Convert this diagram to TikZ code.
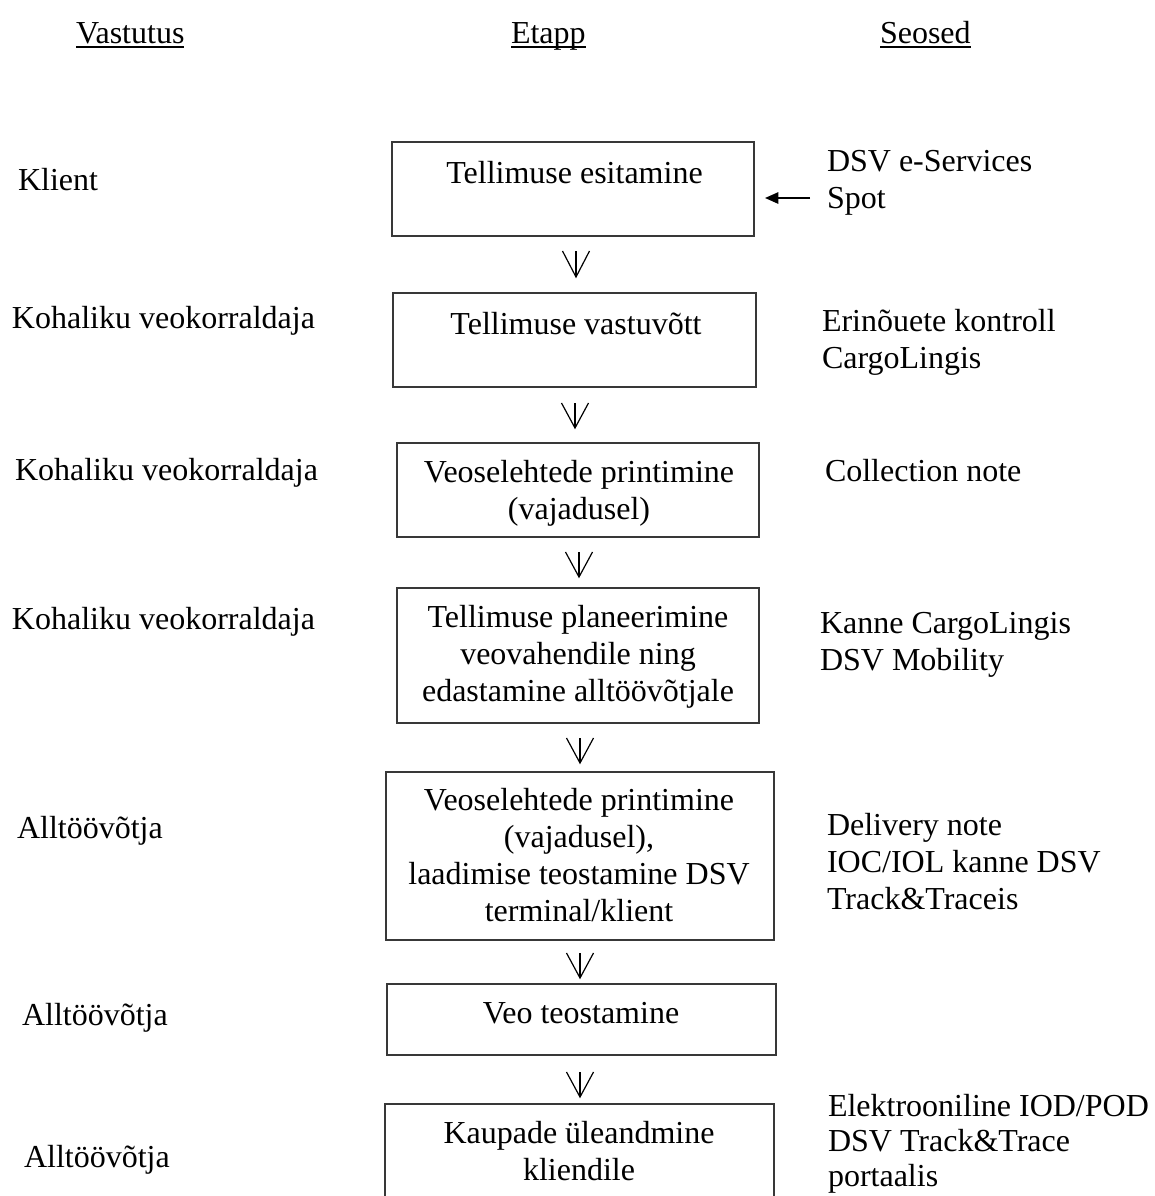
\documentclass[tikz,border=0pt]{standalone}
\usepackage{fontspec}
\setmainfont{Liberation Serif}
\usetikzlibrary{arrows.meta,calc}
\newcommand{\mlc}[1]{\begin{tabular}[t]{@{}c@{}}#1\end{tabular}}
\newcommand{\mll}[1]{\begin{tabular}[t]{@{}l@{}}#1\end{tabular}}
\begin{document}
\begin{tikzpicture}[x=0.75pt,y=-0.75pt,
  txt/.style={inner sep=0pt, outer sep=0pt, font=\fontsize{24}{27.75}\selectfont, text=black},
  box/.style={draw=black!78, line width=1.2pt, inner sep=0pt, outer sep=0pt},
  dstem/.style={draw=black, line width=0.9pt, line join=miter},
  larr/.style={draw=black, line width=1.3pt, -{Triangle[length=10pt,width=8.5pt]}},
  uline/.style={draw=black, line width=1.5pt}]
\clip (0,0) rectangle (1154,1196);
\fill[white] (0,0) rectangle (1154,1196);

% headers
\node[txt, anchor=base west] (h1) at (76,43) {Vastutus};
\node[txt, anchor=base west] (h2) at (511,43) {Etapp};
\node[txt, anchor=base west] (h3) at (880,43) {Seosed};
\draw[uline] ($(h1.base west)+(0,4)$) -- ($(h1.base east)+(0,4)$);
\draw[uline] ($(h2.base west)+(0,4)$) -- ($(h2.base east)+(0,4)$);
\draw[uline] ($(h3.base west)+(0,4)$) -- ($(h3.base east)+(0,4)$);

% boxes
\node[box, minimum width=271.5pt, minimum height=70.5pt] (b1) at (573,189) {};
\node[box, minimum width=272.25pt, minimum height=70.5pt] (b2) at (574.5,340) {};
\node[box, minimum width=271.5pt, minimum height=70.5pt] (b3) at (578,490) {};
\node[box, minimum width=271.5pt, minimum height=101.25pt] (b4) at (578,655.5) {};
\node[box, minimum width=291pt, minimum height=126pt] (b5) at (580,856) {};
\node[box, minimum width=291.75pt, minimum height=53.25pt] (b6) at (581.5,1019.5) {};
\node[box, minimum width=291.75pt, minimum height=94.5pt] (b7) at (579.5,1167) {};

% box texts
\node[txt, anchor=base] (t1) at (574.5,183) {Tellimuse esitamine};
\node[txt, anchor=base] (t2) at (576,334) {Tellimuse vastuvõtt};
\node[txt, anchor=base] (t3) at (579,482) {\mlc{Veoselehtede printimine\\(vajadusel)}};
\node[txt, anchor=base] (t4) at (578,627) {\mlc{Tellimuse planeerimine\\veovahendile ning\\edastamine alltöövõtjale}};
\node[txt, anchor=base] (t5) at (579,810) {\mlc{Veoselehtede printimine\\(vajadusel),\\laadimise teostamine DSV\\terminal/klient}};
\node[txt, anchor=base] (t6) at (581,1023) {Veo teostamine};
\node[txt, anchor=base] (t7) at (579,1143) {\mlc{Kaupade üleandmine\\kliendile}};

% left column
\node[txt, anchor=base west] (l1) at (18,190) {Klient};
\node[txt, anchor=base west] (l2) at (12,328) {Kohaliku veokorraldaja};
\node[txt, anchor=base west] (l3) at (15,480) {Kohaliku veokorraldaja};
\node[txt, anchor=base west] (l4) at (12,629) {Kohaliku veokorraldaja};
\node[txt, anchor=base west] (l5) at (17,838) {Alltöövõtja};
\node[txt, anchor=base west] (l6) at (22,1025) {Alltöövõtja};
\node[txt, anchor=base west] (l7) at (24,1167) {Alltöövõtja};

% right column
\node[txt, anchor=base west] (r1) at (827,171) {\mll{DSV e-Services\\Spot}};
\node[txt, anchor=base west] (r2) at (822,331) {\mll{Erinõuete kontroll\\CargoLingis}};
\node[txt, anchor=base west] (r3) at (825,481) {Collection note};
\node[txt, anchor=base west] (r4) at (820,633) {\mll{Kanne CargoLingis\\DSV Mobility}};
\node[txt, anchor=base west] (r5) at (827,835) {\mll{Delivery note\\IOC/IOL kanne DSV\\Track\&Traceis}};
\node[txt, anchor=base west] (r6) at (828,1116) {\mll{Elektrooniline IOD/POD\\[-1.5pt]DSV Track\&Trace\\[-1.5pt]portaalis}};

% down arrows (stem plus open V head)
\draw[dstem] (b1.south) ++(3,15) coordinate (a1) -- ++(0,26) coordinate (a1t);
\draw[dstem] ($(a1)+(-13.5,0)$) -- (a1t) -- ($(a1)+(13.5,0)$);
\draw[dstem] (b2.south) ++(0.5,16) coordinate (a2) -- ++(0,25) coordinate (a2t);
\draw[dstem] ($(a2)+(-13.5,0)$) -- (a2t) -- ($(a2)+(13.5,0)$);
\draw[dstem] (b3.south) ++(1,15) coordinate (a3) -- ++(0,25) coordinate (a3t);
\draw[dstem] ($(a3)+(-13.5,0)$) -- (a3t) -- ($(a3)+(13.5,0)$);
\draw[dstem] (b4.south) ++(2,15) coordinate (a4) -- ++(0,25) coordinate (a4t);
\draw[dstem] ($(a4)+(-13.5,0)$) -- (a4t) -- ($(a4)+(13.5,0)$);
\draw[dstem] (b5.south) ++(0,13) coordinate (a5) -- ++(0,25) coordinate (a5t);
\draw[dstem] ($(a5)+(-13.5,0)$) -- (a5t) -- ($(a5)+(13.5,0)$);
\draw[dstem] (b6.south) ++(-1.5,17) coordinate (a6) -- ++(0,25) coordinate (a6t);
\draw[dstem] ($(a6)+(-13.5,0)$) -- (a6t) -- ($(a6)+(13.5,0)$);

% left arrow to first box
\coordinate (sptail) at (810,198);
\draw[larr, shorten >=8.25pt] (sptail) -- (sptail -| b1.east);
\end{tikzpicture}
\end{document}
